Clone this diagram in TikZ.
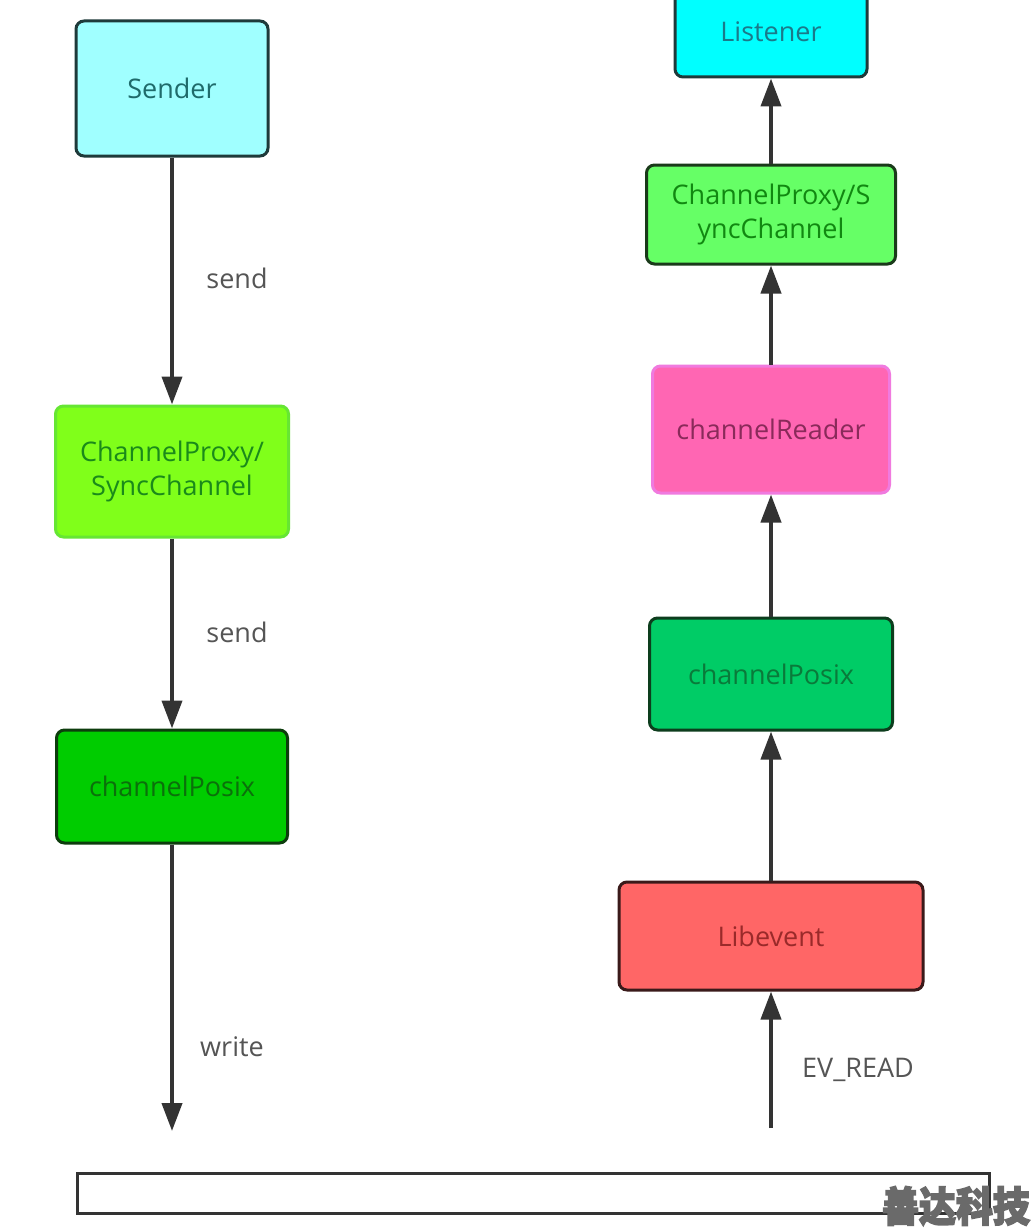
\documentclass[tikz,border=0pt]{standalone}
\usepackage{fontspec}
\setmainfont{Open Sans}
\newfontfamily\cjk[FakeBold=4]{Noto Sans CJK SC}
\usetikzlibrary{arrows.meta}
\definecolor{linec}{HTML}{333333}
\definecolor{labc}{HTML}{555555}
\definecolor{senderF}{HTML}{A0FFFF}\definecolor{senderD}{HTML}{1E3A3A}\definecolor{senderT}{HTML}{1F6B6B}
\definecolor{lproxyF}{HTML}{80FF1A}\definecolor{lproxyD}{HTML}{66E633}\definecolor{lproxyT}{HTML}{1A8A1A}
\definecolor{lposixF}{HTML}{00CC00}\definecolor{lposixD}{HTML}{0D3D0D}\definecolor{lposixT}{HTML}{0B700B}
\definecolor{listF}{HTML}{00FFFF}\definecolor{listT}{HTML}{1A7A8A}
\definecolor{rproxyF}{HTML}{66FF66}\definecolor{rproxyD}{HTML}{1A3A1A}\definecolor{rproxyT}{HTML}{118811}
\definecolor{readerF}{HTML}{FF66B3}\definecolor{readerD}{HTML}{F07ADF}\definecolor{readerT}{HTML}{8A2A5A}
\definecolor{rposixF}{HTML}{00CC66}\definecolor{rposixD}{HTML}{0D3D1D}\definecolor{rposixT}{HTML}{0A7A3A}
\definecolor{libF}{HTML}{FF6666}\definecolor{libD}{HTML}{3A1A1A}\definecolor{libT}{HTML}{9A2A2A}
\definecolor{wmc}{HTML}{6A6A6A}
\tikzset{
  box/.style={draw, line width=3pt, rounded corners=8pt, align=center, inner sep=0pt,
    font=\fontsize{27}{34}\selectfont},
  arr/.style={draw=linec, line width=4pt, -{Triangle[length=28pt,width=20pt]}},
  lab/.style={text=labc, font=\fontsize{27}{32}\selectfont, inner sep=0pt}
}
\begin{document}
\begin{tikzpicture}[x=1pt,y=-1pt]
\clip (0,0) rectangle (1032,1228);
\fill[white] (0,0) rectangle (1032,1228);
% left column
\node[box, fill=senderF, draw=senderD, text=senderT, minimum width=192pt, minimum height=135pt] (sender) at (172,88.5) {Sender};
\node[box, fill=lproxyF, draw=lproxyD, text=lproxyT, minimum width=233pt, minimum height=131pt] (lproxy) at (172,471.5) {ChannelProxy/\\SyncChannel};
\node[box, fill=lposixF, draw=lposixD, text=lposixT, minimum width=231pt, minimum height=113pt] (lposix) at (172,786.5) {channelPosix};
\coordinate (lend) at (172,1131);
\draw[arr] (sender) -- (lproxy);
\draw[arr] (lproxy) -- (lposix);
\draw[arr] (lposix) -- (lend);
\node[lab] (l1) at (237,278) {send};
\node[lab] (l2) at (237,632) {send};
\node[lab] (l3) at (232,1047) {write};
% right column
\node[box, fill=listF, draw=senderD, text=listT, minimum width=192pt, minimum height=90pt] (listener) at (771,32) {Listener};
\node[box, fill=rproxyF, draw=rproxyD, text=rproxyT, minimum width=249pt, minimum height=99pt] (rproxy) at (771,214.5) {ChannelProxy/S\\yncChannel};
\node[box, fill=readerF, draw=readerD, text=readerT, minimum width=237pt, minimum height=127pt] (reader) at (771,429.5) {channelReader};
\node[box, fill=rposixF, draw=rposixD, text=rposixT, minimum width=243pt, minimum height=112pt] (rposix) at (771,674) {channelPosix};
\node[box, fill=libF, draw=libD, text=libT, minimum width=304pt, minimum height=108pt] (libevent) at (771,936) {Libevent};
\coordinate (rstart) at (771,1128);
\draw[arr] (rstart) -- (libevent);
\draw[arr] (libevent) -- (rposix);
\draw[arr] (rposix) -- (reader);
\draw[arr] (reader) -- (rproxy);
\draw[arr] (rproxy) -- (listener);
\node[lab] (l4) at (858,1070) {EV\_READ};
% bottom bar
\node[draw=linec, line width=3pt, fill=white, minimum width=912pt, minimum height=40pt, inner sep=0pt] (bar) at (533,1193) {};
% watermark
\node[text=wmc, inner sep=0pt, font=\cjk\bfseries\fontsize{41}{41}\selectfont] (wm) at (956,1206) {\scalebox{0.9}[1]{善达科技}};
\end{tikzpicture}
\end{document}
